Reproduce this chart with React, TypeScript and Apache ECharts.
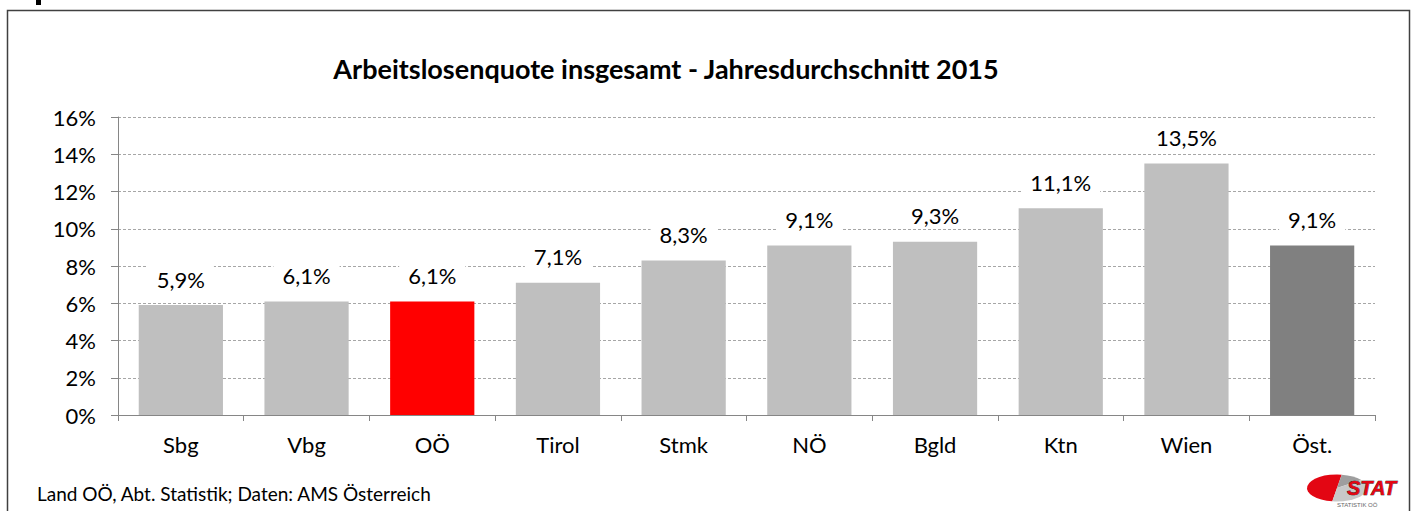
import React, { useEffect, useRef } from "react";
import * as echarts from "echarts";

const categories = ["Sbg", "Vbg", "OÖ", "Tirol", "Stmk", "NÖ", "Bgld", "Ktn", "Wien", "Öst."];
const values = [5.9, 6.1, 6.1, 7.1, 8.3, 9.1, 9.3, 11.1, 13.5, 9.1];
const barColors = ["#BFBFBF", "#BFBFBF", "#FF0000", "#BFBFBF", "#BFBFBF", "#BFBFBF", "#BFBFBF", "#BFBFBF", "#BFBFBF", "#808080"];
const titleText = "Arbeitslosenquote insgesamt - Jahresdurchschnitt 2015";
const sourceText = "Land OÖ, Abt. Statistik; Daten: AMS Österreich";

const FONT = "Lato, 'Open Sans', sans-serif";

export default function App() {
  const ref = useRef<HTMLDivElement>(null);
  useEffect(() => {
    if (!ref.current) return;
    const chart = echarts.init(ref.current, undefined, { renderer: "svg" });
    chart.setOption({
      animation: false,
      backgroundColor: "#ffffff",
      textStyle: { fontFamily: FONT },
      title: {
        text: titleText,
        left: 661,
        textAlign: "center",
        top: 50,
        textStyle: { fontFamily: FONT, fontSize: 27, fontWeight: "bold", color: "#000" },
      },
      grid: { left: 118, right: 43, top: 117, bottom: 96 },
      xAxis: {
        type: "category",
        data: categories,
        axisLine: { lineStyle: { color: "#868686", width: 1 } },
        axisTick: { show: true, length: 6, lineStyle: { color: "#868686" } },
        axisLabel: { margin: 18, fontSize: 22, color: "#000", fontFamily: FONT },
      },
      yAxis: {
        type: "value",
        min: 0,
        max: 16,
        interval: 2,
        axisLine: { show: true, lineStyle: { color: "#868686", width: 1 } },
        axisTick: { show: true, length: 7, lineStyle: { color: "#868686" } },
        axisLabel: { margin: 22, fontSize: 22, color: "#000", fontFamily: FONT, formatter: (v: number) => v + "%" },
        splitLine: { lineStyle: { color: "#A6A6A6", type: [3, 2], width: 1 } },
      },
      series: [
        {
          type: "bar",
          barCategoryGap: "33%",
          data: values.map((v, i) => ({ value: v, itemStyle: { color: barColors[i] } })),
          label: {
            show: true,
            position: "top",
            distance: 13,
            fontSize: 22,
            color: "#000",
            fontFamily: FONT,
            backgroundColor: "#ffffff",
            padding: [2, 9],
            formatter: (p: any) => p.value.toFixed(1).replace(".", ",") + "%",
          },
        },
      ],
      graphic: [
        {
          type: "rect",
          shape: { x: 7.5, y: 10.5, width: 1402, height: 520 },
          style: { fill: "none", stroke: "#404040", lineWidth: 1.5 },
          silent: true,
        },
        {
          type: "rect",
          shape: { x: 36, y: 0, width: 5, height: 5 },
          style: { fill: "#000" },
        },
        {
          type: "text",
          left: 37,
          top: 484,
          style: { text: sourceText, fontSize: 19, fill: "#000", fontFamily: FONT },
        },
        {
          type: "group",
          x: 1337,
          y: 488,
          scaleY: 0.45,
          children: [
            { type: "sector", shape: { cx: 0, cy: 0, r: 30, startAngle: Math.PI * 0.55, endAngle: Math.PI * 1.55 }, style: { fill: "#E30613" } },
            { type: "sector", shape: { cx: 0, cy: 0, r: 30, startAngle: Math.PI * 1.55, endAngle: Math.PI * 1.8 }, style: { fill: "#9E9E9E" } },
            { type: "sector", shape: { cx: 0, cy: 0, r: 30, startAngle: Math.PI * 1.8, endAngle: Math.PI * 2.55 }, style: { fill: "#C8C8C8" } },
          ],
        },
        {
          type: "text",
          x: 1347,
          y: 478,
          style: { text: "STAT", fontSize: 20, fontWeight: "bold", fontStyle: "italic", fill: "#E30613", stroke: "#000", lineWidth: 0.6, fontFamily: "'Liberation Sans', Arial, sans-serif" },
        },
        {
          type: "text",
          x: 1337,
          y: 502,
          style: { text: "STATISTIK OÖ", fontSize: 6, fill: "#666", fontFamily: "'Liberation Sans', sans-serif" },
        },
      ],
    });
    return () => chart.dispose();
  }, []);
  return <div ref={ref} style={{ width: 1418, height: 511, position: "absolute", left: 0, top: 0 }} />;
}
